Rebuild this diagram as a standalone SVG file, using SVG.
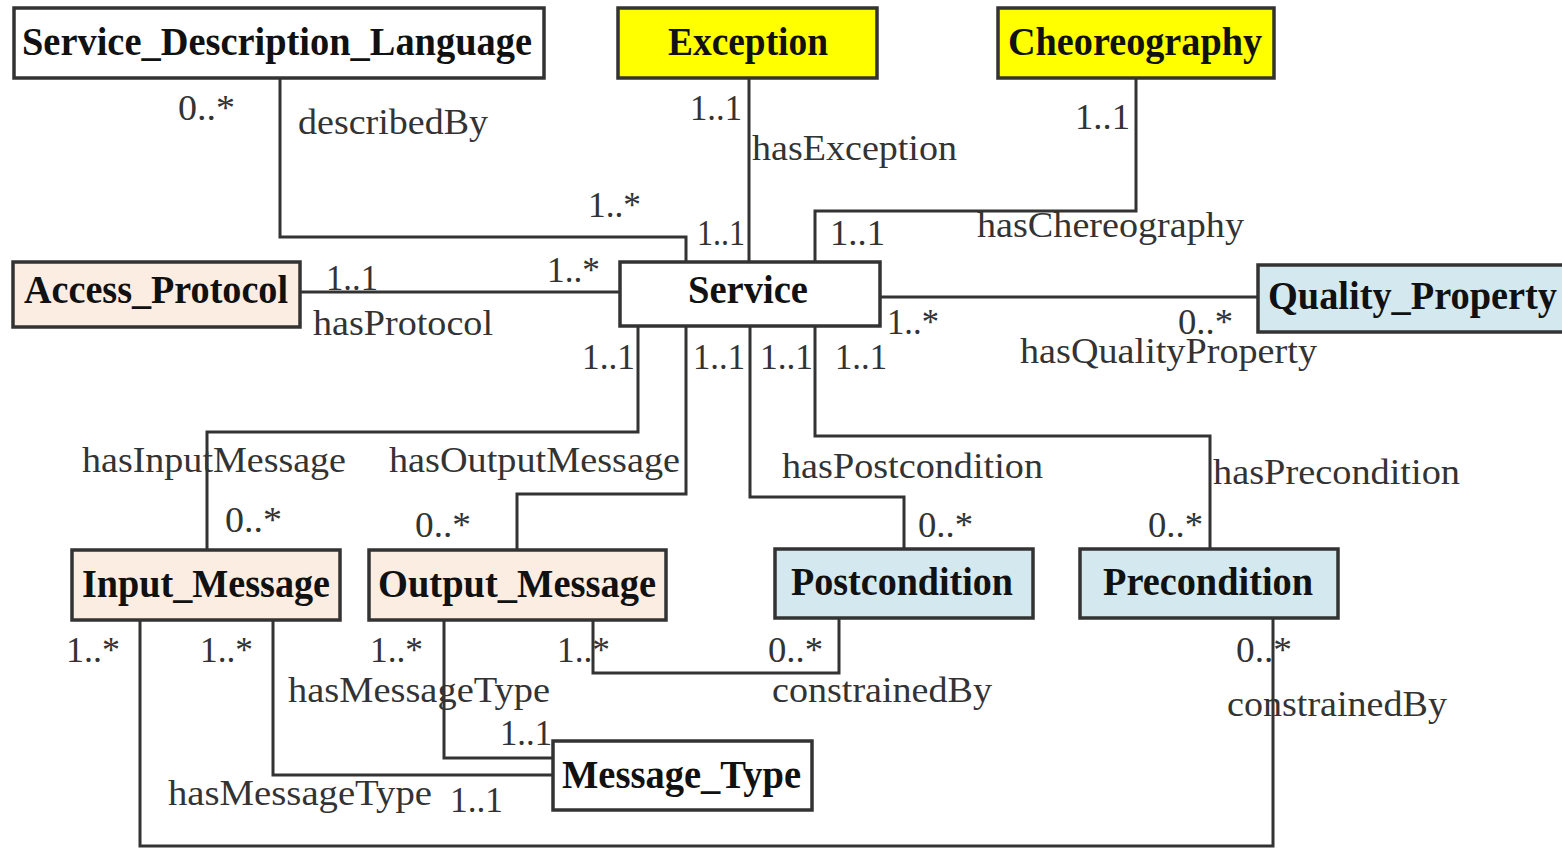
<svg xmlns="http://www.w3.org/2000/svg" width="1562" height="848" viewBox="0 0 1562 848">
<style>
.box{stroke:#333;stroke-width:3.5}
.w{fill:#fff}.y{fill:#ffff00}.p{fill:#fcede3}.b{fill:#d3e9ef}
.t{font-family:"Liberation Serif","Times New Roman",serif;font-weight:bold;font-size:40px;fill:#111}
.l{font-family:"Liberation Serif","Times New Roman",serif;font-size:36px;fill:#333}
.c{fill:none;stroke:#333;stroke-width:3}
</style>
<g id="connectors">
<path class="c" d="M280,78 V237 H686 V262"/>
<path class="c" d="M749,78 V262"/>
<path class="c" d="M1136,78 V211 H815 V262"/>
<path class="c" d="M300,292 H620"/>
<path class="c" d="M880,297 H1258"/>
<path class="c" d="M638,326 V432 H207 V550"/>
<path class="c" d="M686,326 V494 H517 V550"/>
<path class="c" d="M750,326 V497 H904 V549"/>
<path class="c" d="M815,326 V436 H1210 V549"/>
<path class="c" d="M593,620 V673 H839 V618"/>
<path class="c" d="M140,620 V846 H1273 V618"/>
<path class="c" d="M444,620 V758 H553"/>
<path class="c" d="M273,620 V775 H553"/>
<g class="l">
<text x="178" y="120" textLength="57" lengthAdjust="spacingAndGlyphs">0..*</text>
<text x="298" y="134" textLength="190" lengthAdjust="spacingAndGlyphs">describedBy</text>
<text x="588" y="217" textLength="53" lengthAdjust="spacingAndGlyphs">1..*</text>
<text x="690" y="120" textLength="52" lengthAdjust="spacingAndGlyphs">1..1</text>
<text x="752" y="160" textLength="205" lengthAdjust="spacingAndGlyphs">hasException</text>
<text x="697" y="245" textLength="48" lengthAdjust="spacingAndGlyphs">1..1</text>
<text x="1075" y="129" textLength="55" lengthAdjust="spacingAndGlyphs">1..1</text>
<text x="830" y="245" textLength="55" lengthAdjust="spacingAndGlyphs">1..1</text>
<text x="977" y="237" textLength="267" lengthAdjust="spacingAndGlyphs">hasChereography</text>
<text x="326" y="290" textLength="52" lengthAdjust="spacingAndGlyphs">1..1</text>
<text x="547" y="282" textLength="53" lengthAdjust="spacingAndGlyphs">1..*</text>
<text x="313" y="335" textLength="180" lengthAdjust="spacingAndGlyphs">hasProtocol</text>
<text x="887" y="334" textLength="52" lengthAdjust="spacingAndGlyphs">1..*</text>
<text x="1178" y="334" textLength="55" lengthAdjust="spacingAndGlyphs">0..*</text>
<text x="1020" y="363" textLength="297" lengthAdjust="spacingAndGlyphs">hasQualityProperty</text>
<text x="582" y="369" textLength="53" lengthAdjust="spacingAndGlyphs">1..1</text>
<text x="693" y="369" textLength="52" lengthAdjust="spacingAndGlyphs">1..1</text>
<text x="760" y="369" textLength="53" lengthAdjust="spacingAndGlyphs">1..1</text>
<text x="835" y="369" textLength="52" lengthAdjust="spacingAndGlyphs">1..1</text>
<text x="82" y="472" textLength="264" lengthAdjust="spacingAndGlyphs">hasInputMessage</text>
<text x="389" y="472" textLength="291" lengthAdjust="spacingAndGlyphs">hasOutputMessage</text>
<text x="782" y="478" textLength="261" lengthAdjust="spacingAndGlyphs">hasPostcondition</text>
<text x="1213" y="484" textLength="247" lengthAdjust="spacingAndGlyphs">hasPrecondition</text>
<text x="225" y="532" textLength="57" lengthAdjust="spacingAndGlyphs">0..*</text>
<text x="415" y="537" textLength="56" lengthAdjust="spacingAndGlyphs">0..*</text>
<text x="918" y="537" textLength="55" lengthAdjust="spacingAndGlyphs">0..*</text>
<text x="1148" y="537" textLength="55" lengthAdjust="spacingAndGlyphs">0..*</text>
<text x="66" y="662" textLength="54" lengthAdjust="spacingAndGlyphs">1..*</text>
<text x="200" y="662" textLength="53" lengthAdjust="spacingAndGlyphs">1..*</text>
<text x="370" y="662" textLength="53" lengthAdjust="spacingAndGlyphs">1..*</text>
<text x="557" y="662" textLength="53" lengthAdjust="spacingAndGlyphs">1..*</text>
<text x="768" y="662" textLength="55" lengthAdjust="spacingAndGlyphs">0..*</text>
<text x="1236" y="662" textLength="56" lengthAdjust="spacingAndGlyphs">0..*</text>
<text x="288" y="702" textLength="262" lengthAdjust="spacingAndGlyphs">hasMessageType</text>
<text x="772" y="702" textLength="220" lengthAdjust="spacingAndGlyphs">constrainedBy</text>
<text x="1227" y="716" textLength="220" lengthAdjust="spacingAndGlyphs">constrainedBy</text>
<text x="500" y="745" textLength="52" lengthAdjust="spacingAndGlyphs">1..1</text>
<text x="168" y="805" textLength="264" lengthAdjust="spacingAndGlyphs">hasMessageType</text>
<text x="450" y="812" textLength="53" lengthAdjust="spacingAndGlyphs">1..1</text>
</g>
</g>
<g id="sdl"><rect class="box w" x="14" y="8" width="530" height="70"/><text class="t" x="22" y="55" textLength="510" lengthAdjust="spacingAndGlyphs">Service_Description_Language</text></g>
<g id="exception"><rect class="box y" x="618" y="8" width="259" height="70"/><text class="t" x="668" y="55" textLength="160" lengthAdjust="spacingAndGlyphs">Exception</text></g>
<g id="cheoreography"><rect class="box y" x="998" y="8" width="276" height="70"/><text class="t" x="1008" y="55" textLength="254" lengthAdjust="spacingAndGlyphs">Cheoreography</text></g>
<g id="access_protocol"><rect class="box p" x="13" y="262" width="287" height="65"/><text class="t" x="24" y="303" textLength="264" lengthAdjust="spacingAndGlyphs">Access_Protocol</text></g>
<g id="service"><rect class="box w" x="620" y="262" width="260" height="64"/><text class="t" x="688" y="303" textLength="120" lengthAdjust="spacingAndGlyphs">Service</text></g>
<g id="quality_property"><rect class="box b" x="1258" y="265" width="310" height="67"/><text class="t" x="1268" y="309" textLength="289" lengthAdjust="spacingAndGlyphs">Quality_Property</text></g>
<g id="input_message"><rect class="box p" x="72" y="550" width="268" height="70"/><text class="t" x="82" y="597" textLength="248" lengthAdjust="spacingAndGlyphs">Input_Message</text></g>
<g id="output_message"><rect class="box p" x="369" y="550" width="297" height="70"/><text class="t" x="378" y="597" textLength="278" lengthAdjust="spacingAndGlyphs">Output_Message</text></g>
<g id="postcondition"><rect class="box b" x="775" y="549" width="258" height="69"/><text class="t" x="791" y="595" textLength="222" lengthAdjust="spacingAndGlyphs">Postcondition</text></g>
<g id="precondition"><rect class="box b" x="1080" y="549" width="258" height="69"/><text class="t" x="1103" y="595" textLength="210" lengthAdjust="spacingAndGlyphs">Precondition</text></g>
<g id="message_type"><rect class="box w" x="553" y="741" width="259" height="69"/><text class="t" x="562" y="788" textLength="239" lengthAdjust="spacingAndGlyphs">Message_Type</text></g>
</svg>
